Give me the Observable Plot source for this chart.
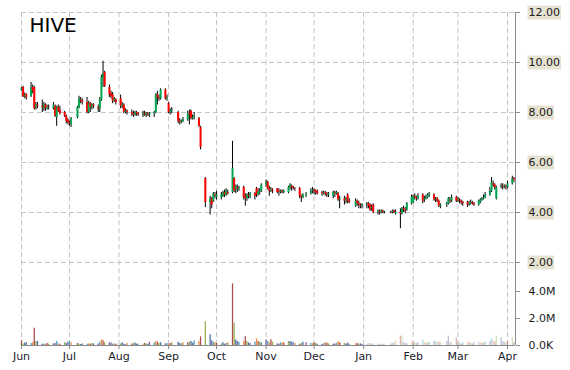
<!DOCTYPE html>
<html><head><meta charset="utf-8">
<script src="https://cdn.jsdelivr.net/npm/d3@7"></script>
<script src="https://cdn.jsdelivr.net/npm/@observablehq/plot@0.6"></script>
<style>
body{margin:0;background:#fff;}
#wrap{position:relative;width:570px;height:370px;}
#wrap svg{position:absolute;left:0;top:0;}
</style></head><body><div id="wrap"></div>
<script>
const title = "HIVE";
const monthKeys = ["2021-06","2021-07","2021-08","2021-09","2021-10","2021-11","2021-12","2022-01","2022-02","2022-03","2022-04"];
const dayNums = [
 [1,2,3,4,7,8,9,10,11,14,15,16,17,18,21,22,23,24,25,28,29,30],
 [1,2,6,7,8,9,12,13,14,15,16,19,20,21,22,23,26,27,28,29,30],
 [2,3,4,5,6,9,10,11,12,13,16,17,18,19,20,23,24,25,26,27,30,31],
 [1,2,3,7,8,9,10,13,14,15,16,17,20,21,24,27,28,29,30],
 [1,4,5,6,7,8,11,12,13,14,15,18,19,20,21,22,25,26,27,28,29],
 [1,2,3,4,5,8,9,10,11,12,15,16,17,18,19,22,23,24,26,29,30],
 [1,2,3,6,7,8,9,10,13,14,15,16,17,20,21,22,23,27,28,29,30,31],
 [3,4,5,6,7,10,11,12,13,14,18,19,20,21,24,25,26,27,28,31],
 [1,2,3,4,7,8,9,10,11,14,15,16,17,18,22,23,24,25,28],
 [1,2,3,4,7,8,9,10,11,14,15,16,17,18,21,22,23,24,25,28,29,30,31],
 [1,4,5]
];
const opens = [
 8.88,9.00,8.62,8.72, 8.65,9.00,9.00,8.20,8.30, 8.25,8.15,8.30,8.15,8.20, 8.15,8.25,7.80,8.20,8.10, 8.00,7.85,7.70,
 7.60,7.50, 7.80,8.20,8.50,8.45, 8.40,8.00,8.35,8.20,8.30, 8.20,8.15,8.50,9.35,9.60, 9.00,8.75,8.70,8.45,8.50,
 8.55,8.25,8.30,8.00,8.05, 8.00,7.95,7.90,8.00,7.95, 7.90,7.95,7.90,7.95,7.90, 7.95,8.00,8.70,8.60,8.55, 8.90,8.55,
 8.35,8.00,8.05, 8.00,7.65,7.60,7.65, 7.70,7.95,8.05,7.75,7.80, 7.75,7.40,5.35, 4.40,4.55,4.45,4.70,
 4.60, 4.60,4.65,4.80,4.70,4.80, 4.80,5.35,4.90,5.00,4.95, 5.00,4.65,4.55,4.70,4.65, 4.75,4.95,4.70,4.80,4.85,
 5.10,5.20,4.95,4.85,4.90, 4.95,4.85,4.80,4.85,4.80, 4.80,5.00,5.05,5.00,4.95, 4.95,4.65,4.60,4.70, 4.75,4.85,
 4.90,4.85,4.85, 4.80,4.75,4.80,4.75,4.70, 4.65,4.80,4.75,4.75,4.50, 4.55,4.45,4.70,4.45, 4.25,4.45,4.35,4.30,4.25,
 4.30,4.35,4.30,4.15,4.30, 4.00,4.05,4.00,4.05,4.00, 4.00,4.00,4.05,3.95, 4.00,3.95,4.15,4.10,4.10, 4.35,
 4.40,4.65,4.60,4.55, 4.70,4.50,4.55,4.60,4.70, 4.70,4.50,4.55,4.45,4.25, 4.30,4.35,4.50,4.45, 4.60,
 4.45,4.50,4.45,4.40, 4.40,4.30,4.35,4.40,4.35, 4.30,4.40,4.50,4.55,4.60, 4.70,4.85,5.15,5.10,4.55, 5.00,5.05,5.00,5.05,
 5.00,5.15,5.35
];
const highs = [
 9.00,9.05,8.78,8.75, 9.20,9.10,9.05,8.40,8.40, 8.50,8.40,8.35,8.30,8.30, 8.40,8.30,8.25,8.30,8.25, 8.05,7.90,7.75,
 7.65,7.80, 8.25,8.65,8.60,8.55, 8.60,8.45,8.40,8.35,8.35, 8.30,8.60,9.50,10.05,9.65, 9.10,8.85,8.80,8.60,8.55,
 8.70,8.40,8.35,8.15,8.10, 8.10,8.05,8.05,8.05,8.00, 8.05,8.05,8.00,8.00,8.00, 8.05,8.75,8.85,8.70,8.95, 8.95,8.70,
 8.40,8.15,8.20, 8.05,7.75,7.70,7.80, 8.05,8.10,8.10,7.90,8.00, 7.80,7.45,5.40, 4.65,4.60,4.80,4.80,
 4.85, 4.80,4.85,4.90,4.95,4.90, 6.85,5.40,5.10,5.10,5.05, 5.05,4.75,4.75,4.80,4.80, 4.80,5.00,4.95,4.95,5.15,
 5.30,5.25,5.05,5.00,4.95, 4.95,4.95,4.90,4.90,4.90, 5.05,5.15,5.10,5.05,5.00, 5.00,4.70,4.75,4.80, 4.95,5.00,
 4.95,4.90,4.90, 4.85,4.85,4.85,4.80,4.80, 4.85,4.85,4.85,4.80,4.65, 4.65,4.60,4.75,4.55, 4.55,4.50,4.45,4.35,4.35,
 4.40,4.40,4.35,4.30,4.35, 4.10,4.10,4.10,4.10,4.05, 4.05,4.10,4.10,4.10, 4.15,4.20,4.25,4.20,4.40, 4.70,
 4.70,4.75,4.65,4.75, 4.75,4.65,4.70,4.75,4.80, 4.75,4.60,4.60,4.50,4.35, 4.40,4.60,4.60,4.70, 4.65,
 4.60,4.55,4.50,4.45, 4.45,4.45,4.50,4.45,4.40, 4.50,4.55,4.60,4.70,4.80, 5.00,5.40,5.25,5.15,5.05, 5.15,5.15,5.10,5.10,
 5.25,5.45,5.40
];
const lows = [
 8.85,8.60,8.55,8.50, 8.60,8.75,8.10,8.10,8.15, 8.00,8.05,8.05,8.10,8.10, 8.10,7.80,7.45,8.00,7.90, 7.80,7.55,7.50,
 7.45,7.40, 7.75,8.15,8.35,8.30, 7.95,7.95,8.00,8.10,8.15, 8.00,8.00,8.45,9.00,9.00, 8.60,8.55,8.35,8.40,8.30,
 8.15,8.15,7.95,7.95,7.90, 7.85,7.80,7.85,7.85,7.85, 7.80,7.85,7.80,7.85,7.80, 7.80,7.95,8.30,8.45,8.50, 8.50,8.45,
 7.95,7.90,7.95, 7.55,7.50,7.55,7.60, 7.65,7.50,7.70,7.70,7.70, 7.40,6.50,4.20, 3.90,4.15,4.40,4.55,
 4.50, 4.50,4.60,4.60,4.65,4.70, 4.75,4.80,4.75,4.80,4.85, 4.50,4.25,4.45,4.55,4.55, 4.50,4.60,4.65,4.70,4.80,
 5.00,4.90,4.65,4.80,4.75, 4.75,4.65,4.75,4.75,4.75, 4.75,4.90,4.85,4.90,4.85, 4.55,4.40,4.55,4.60, 4.70,4.75,
 4.70,4.70,4.70, 4.65,4.70,4.65,4.60,4.60, 4.55,4.60,4.70,4.45,4.15, 4.30,4.35,4.35,4.35, 4.20,4.25,4.15,4.15,4.15,
 4.15,4.15,4.05,4.05,3.95, 3.90,3.90,3.95,3.95,3.95, 3.95,3.95,3.95,3.90, 3.35,3.90,4.00,3.95,4.05, 4.30,
 4.35,4.50,4.45,4.50, 4.35,4.40,4.50,4.55,4.60, 4.45,4.40,4.40,4.20,4.15, 4.20,4.30,4.35,4.40, 4.40,
 4.40,4.35,4.30,4.25, 4.20,4.25,4.30,4.30,4.25, 4.25,4.35,4.45,4.50,4.55, 4.65,4.80,5.00,4.90,4.50, 4.95,4.90,4.95,4.90,
 4.95,5.10,5.20
];
const closes = [
 8.97,8.62,8.70,8.60, 9.00,8.85,8.15,8.30,8.25, 8.20,8.30,8.15,8.20,8.20, 8.30,7.85,8.20,8.05,7.95, 7.85,7.65,7.60,
 7.55,7.75, 8.20,8.55,8.45,8.40, 8.00,8.35,8.20,8.30,8.25, 8.15,8.50,9.40,9.55,9.05, 8.70,8.65,8.45,8.50,8.40,
 8.25,8.30,8.00,8.05,8.00, 7.95,7.90,8.00,7.95,7.90, 7.95,7.90,7.95,7.90,7.95, 8.00,8.70,8.60,8.55,8.90, 8.55,8.60,
 8.00,8.05,8.10, 7.65,7.60,7.65,7.70, 7.95,7.90,7.75,7.80,7.85, 7.45,6.60,4.40, 4.55,4.30,4.75,4.65,
 4.70, 4.70,4.80,4.70,4.85,4.75, 5.75,4.85,5.05,4.95,5.00, 4.60,4.55,4.70,4.65,4.75, 4.65,4.70,4.80,4.85,5.10,
 5.20,4.95,4.85,4.90,4.85, 4.80,4.80,4.85,4.80,4.85, 5.00,5.10,5.00,4.95,4.95, 4.65,4.60,4.70,4.75, 4.85,4.90,
 4.85,4.80,4.75, 4.75,4.80,4.75,4.70,4.75, 4.80,4.75,4.80,4.50,4.55, 4.45,4.55,4.45,4.40, 4.45,4.35,4.30,4.25,4.30,
 4.35,4.25,4.10,4.20,4.00, 4.05,4.00,4.05,4.00,4.02, 3.98,4.05,4.00,4.00, 3.95,4.15,4.10,4.05,4.35, 4.60,
 4.65,4.60,4.55,4.65, 4.45,4.55,4.60,4.70,4.75, 4.50,4.55,4.45,4.25,4.30, 4.35,4.55,4.45,4.60, 4.45,
 4.50,4.45,4.40,4.35, 4.30,4.35,4.40,4.35,4.30, 4.45,4.50,4.55,4.60,4.70, 4.85,5.20,5.10,5.00,5.00, 5.05,5.00,5.05,5.00,
 5.15,5.35,5.30
];
// volume in millions
const volumes = [
 0.35,0.12,0.18,0.20, 0.15,0.22,1.28,0.30,0.30, 0.10,0.12,0.08,0.15,0.10, 0.12,0.15,0.30,0.12,0.10, 0.20,0.15,0.25,
 0.30,0.20, 0.15,0.10,0.08,0.12, 0.10,0.12,0.10,0.15,0.12, 0.12,0.25,0.42,0.35,0.20, 0.20,0.18,0.10,0.12,0.10,
 0.12,0.20,0.10,0.08,0.15, 0.12,0.15,0.18,0.10,0.12, 0.10,0.15,0.12,0.10,0.25, 0.18,0.30,0.25,0.15,0.20, 0.12,0.15,
 0.10,0.15,0.20, 0.25,0.15,0.12,0.20, 0.20,0.25,0.30,0.18,0.35, 0.30,0.64,1.75, 0.80,0.35,0.25,0.22,
 0.15, 0.12,0.20,0.10,0.15,0.20, 4.57,1.65,0.40,0.30,0.25, 0.30,0.64,0.30,0.20,0.15, 0.25,0.50,0.30,0.25,0.20,
 0.40,0.30,0.20,0.42,0.25, 0.12,0.10,0.20,0.20,0.18, 0.30,0.30,0.25,0.25,0.15, 0.10,0.15,0.25,0.20, 0.15,0.12,
 0.20,0.15,0.10, 0.08,0.15,0.20,0.18,0.12, 0.10,0.12,0.15,0.30,0.20, 0.15,0.12,0.18,0.10, 0.12,0.15,0.10,0.12,0.08,
 0.10,0.12,0.15,0.10,0.12, 0.10,0.08,0.12,0.10,0.10, 0.12,0.15,0.20,0.35, 0.70,0.68,0.20,0.15,0.15, 0.20,
 0.25,0.20,0.15,0.20, 0.40,0.20,0.15,0.25,0.20, 0.30,0.30,0.20,0.25,0.20, 0.30,0.70,0.25,0.20, 0.55,
 0.20,0.15,0.10,0.20, 0.25,0.20,0.15,0.12,0.20, 0.25,0.20,0.15,0.22,0.25, 0.30,0.50,0.35,0.25,0.70, 0.60,0.30,0.25,0.20,
 0.30,0.60,0.25
];
const priceTicks = [2, 4, 6, 8, 10, 12];
const volumeTicks = [0, 2, 4];
const monthTicks = ["2021-06-01","2021-07-01","2021-08-01","2021-09-01","2021-10-01","2021-11-01","2021-12-01","2022-01-01","2022-02-01","2022-03-01","2022-04-01"].map(d => new Date(d));
const xDomain = [new Date("2021-06-01"), new Date("2022-04-06")];

const dates = monthKeys.flatMap((m, i) => dayNums[i].map(d => new Date(`${m}-${String(d).padStart(2, "0")}`)));
const n = Math.min(dates.length, opens.length, highs.length, lows.length, closes.length, volumes.length);
const data = d3.range(n).map(i => ({date: dates[i], open: opens[i], high: highs[i], low: lows[i], close: closes[i], volume: volumes[i], i}));

const W = 570, H = 370;
const margins = {marginLeft: 21, marginRight: 55, marginTop: 12, marginBottom: 25};
const font = {fontFamily: "'DejaVu Sans', Verdana, sans-serif", fontSize: "11px", background: "transparent", overflow: "visible"};
const grid = {stroke: "#c4c4c4", strokeOpacity: 1, strokeDasharray: "5,3"};
const candleColor = d => d.close > d.open ? "#00a651" : d.close < d.open ? "#ff0000" : "#000000";
const volPalette = ["#a84444", "#8fae44", "#3d6ea3", "#7b5b9c", "#38a1c4", "#f08c34"];
const volColor = d => {
  const c = d3.color(volPalette[d.i % volPalette.length]);
  c.opacity = d.date >= new Date("2022-01-01") ? 0.4 : 0.95;
  return c.formatRgb();
};

const pricePlot = Plot.plot({
  width: W, height: H, ...margins, style: font,
  x: {type: "utc", domain: xDomain, axis: null},
  y: {domain: [-1.32, 12], axis: null},
  color: {type: "identity"},
  marks: [
    Plot.gridY(priceTicks, grid),
    Plot.gridX(monthTicks, grid),
    Plot.ruleX([xDomain[1]], {stroke: "#8a8a8a"}),
    Plot.ruleX(data, {x: "date", y1: "low", y2: "high", stroke: "#000", strokeWidth: 1}),
    Plot.ruleX(data.filter(d => d.open !== d.close), {x: "date", y1: "open", y2: "close", stroke: candleColor, strokeWidth: 2}),
    Plot.axisY(priceTicks, {anchor: "right", tickSize: 4, tickPadding: 9, tickFormat: d => d.toFixed(2), stroke: "#8a8a8a", fill: "#1a1a1a", label: null}),
    Plot.text([title], {frameAnchor: "top-left", dx: 8, dy: 5, text: d => d, fontSize: 20, textAnchor: "start", lineAnchor: "top", fill: "#000"})
  ]
});

const volPlot = Plot.plot({
  width: W, height: H, ...margins, style: font,
  x: {type: "utc", domain: xDomain, axis: null},
  y: {domain: [0, 333 / 13.5], axis: null},
  color: {type: "identity"},
  marks: [
    Plot.ruleX(data, {x: "date", y1: 0, y2: "volume", stroke: volColor, strokeWidth: 1.3}),
    Plot.ruleY([0], {stroke: "#8a8a8a"}),
    Plot.axisY(volumeTicks, {anchor: "right", tickSize: 4, tickPadding: 9, tickFormat: d => d === 0 ? "0.0K" : d.toFixed(1) + "M", stroke: "#8a8a8a", fill: "#1a1a1a", label: null}),
    Plot.axisX(monthTicks, {anchor: "bottom", tickSize: 4, tickPadding: 3, tickFormat: d3.utcFormat("%b"), stroke: "#8a8a8a", fill: "#1a1a2a", label: null})
  ]
});

const wrap = document.getElementById("wrap");
wrap.appendChild(pricePlot);
wrap.appendChild(volPlot);

// beige boxes behind the price tick labels
const svgNS = "http://www.w3.org/2000/svg";
const svgRect = pricePlot.getBoundingClientRect();
const labels = Array.from(pricePlot.querySelectorAll("text")).filter(t => /^\d+\.00$/.test(t.textContent.trim()));
if (labels.length) {
  const bg = document.createElementNS(svgNS, "g");
  labels.forEach(t => {
    const r = t.getBoundingClientRect();
    const rect = document.createElementNS(svgNS, "rect");
    rect.setAttribute("x", r.left - svgRect.left - 1);
    rect.setAttribute("y", r.top - svgRect.top - 0.5);
    rect.setAttribute("width", r.width + 2);
    rect.setAttribute("height", r.height + 1);
    rect.setAttribute("fill", "#e6e2d2");
    bg.appendChild(rect);
  });
  const host = labels[0].closest("g");
  host.parentNode.insertBefore(bg, host);
}
</script></body></html>
